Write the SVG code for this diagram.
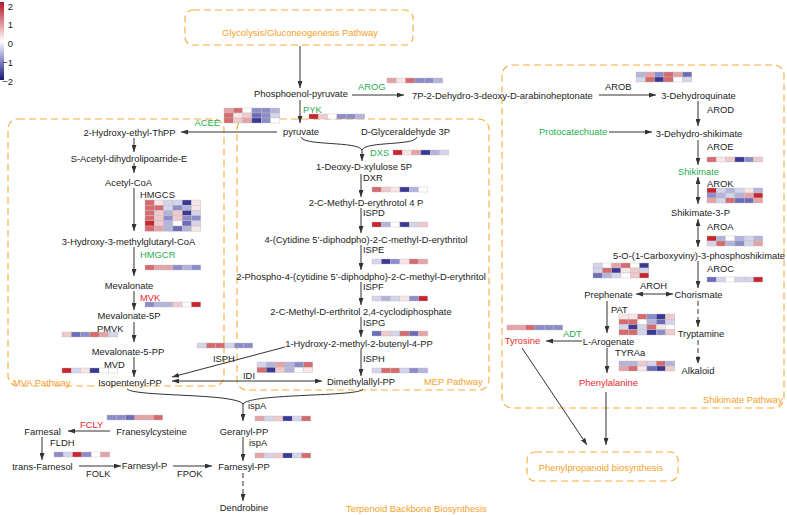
<svg xmlns="http://www.w3.org/2000/svg" width="787" height="515" viewBox="0 0 787 515">
<style>
.t{font-family:"Liberation Sans",Arial,sans-serif;font-size:9.4px;fill:#222}
.m{text-anchor:middle}
.e{text-anchor:end}
.g{fill:#1fae4f}
.rd{fill:#e8262d}
.o{fill:#f5a02a}
.box{fill:none;stroke:#f6ab3c;stroke-width:1.1;stroke-dasharray:7 4}
.ln{stroke:#333;stroke-width:1;fill:none}
.ar{marker-end:url(#ah)}
.da{marker-start:url(#ah);marker-end:url(#ah)}
.dash{stroke-dasharray:5 3}
.hm rect{stroke:#bdbdbd;stroke-width:0.4}
.r3{fill:#c8262c}.r2{fill:#d66a6f}.r1{fill:#e5a2a7}.r0{fill:#f0c9cc}.p{fill:#f8e6e7}.w{fill:#ffffff}
.b0{fill:#d4d4ec}.b1{fill:#b3b3dc}.b2{fill:#8c8cca}.b25{fill:#6c6cb8}.b3{fill:#3a3a96}
</style>
<defs>
<linearGradient id="cb" x1="0" y1="0" x2="0" y2="1">
<stop offset="0" stop-color="#b2182b"/>
<stop offset="0.25" stop-color="#e0868c"/>
<stop offset="0.5" stop-color="#ffffff"/>
<stop offset="0.75" stop-color="#8a8ac8"/>
<stop offset="1" stop-color="#1a1a6e"/>
</linearGradient>
<marker id="ah" viewBox="0 0 7 5" refX="7" refY="2.5" markerWidth="7" markerHeight="5" markerUnits="userSpaceOnUse" orient="auto-start-reverse">
<path d="M0,0 L7,2.5 L0,5 z" fill="#333"/>
</marker>
</defs>

<g id="legend">
<rect x="0" y="2" width="4" height="78" fill="url(#cb)"/>
<text class="t e" x="13" y="9.5">2</text>
<text class="t e" x="13" y="27.5">1</text>
<text class="t e" x="13" y="46.5">0</text>
<text class="t e" x="13" y="65.5">−1</text>
<text class="t e" x="13" y="84.5">−2</text>
</g>

<g id="pathway-boxes">
<rect class="box" x="185" y="10" width="228" height="35" rx="8"/>
<rect class="box" x="8" y="119" width="216" height="267" rx="10"/>
<rect class="box" x="237" y="119" width="252" height="271" rx="10"/>
<rect class="box" x="502" y="65" width="282" height="343" rx="10"/>
<rect class="box" x="527" y="452" width="151" height="29" rx="8"/>
<text class="t m o" x="300" y="35.5">Glycolysis/Gluconeogenesis Pathway</text>
<text class="t o" x="13" y="385.5">MVA Pathway</text>
<text class="t o" x="424" y="384.5">MEP Pathway</text>
<text class="t o" x="703" y="402.5">Shikimate Pathway</text>
<text class="t o" x="346" y="511.5">Terpenoid Backbone Biosynthesis</text>
<text class="t m o" x="601" y="470.5">Phenylpropanoid biosynthesis</text>
</g>

<g id="connectors">
<line class="ln ar" x1="300" y1="46" x2="300" y2="88"/>
<line class="ln ar" x1="300" y1="100" x2="300" y2="123"/>
<line class="ln ar" x1="352" y1="95" x2="404" y2="95"/>
<line class="ln ar" x1="599" y1="95" x2="656" y2="95"/>
<line class="ln ar" x1="277" y1="132" x2="181" y2="132"/>
<path class="ln" d="M301,137 C303,146 358,141 362,150"/>
<path class="ln" d="M417,137 C415,146 366,141 362,150"/>
<line class="ln ar" x1="362" y1="149" x2="362" y2="161"/>
<line class="ln ar" x1="134" y1="138" x2="134" y2="152"/>
<line class="ln ar" x1="134" y1="163" x2="134" y2="173"/>
<line class="ln ar" x1="134" y1="188" x2="134" y2="231"/>
<line class="ln ar" x1="134" y1="247" x2="134" y2="276"/>
<line class="ln ar" x1="134" y1="291" x2="134" y2="310"/>
<line class="ln ar" x1="134" y1="322" x2="134" y2="342"/>
<line class="ln ar" x1="134" y1="357" x2="134" y2="377"/>
<line class="ln ar" x1="361" y1="174" x2="361" y2="197"/>
<line class="ln ar" x1="361" y1="208" x2="361" y2="233"/>
<line class="ln ar" x1="361" y1="245" x2="361" y2="270"/>
<line class="ln ar" x1="361" y1="282" x2="361" y2="305"/>
<line class="ln ar" x1="361" y1="317" x2="361" y2="337"/>
<line class="ln ar" x1="361" y1="349" x2="361" y2="376"/>
<line class="ln ar" x1="285" y1="347" x2="172" y2="377"/>
<line class="ln da" x1="172" y1="381" x2="322" y2="381"/>
<path class="ln" d="M127,389 C135,397 235,393 243,404"/>
<path class="ln" d="M363,389 C360,397 251,393 243,404"/>
<line class="ln ar" x1="243" y1="403" x2="243" y2="421"/>
<line class="ln ar" x1="243" y1="437" x2="243" y2="461"/>
<line class="ln ar dash" x1="243" y1="473" x2="243" y2="501"/>
<line class="ln ar" x1="110" y1="431" x2="68" y2="431"/>
<line class="ln ar" x1="42" y1="437" x2="42" y2="460"/>
<line class="ln ar" x1="79" y1="466" x2="121" y2="466"/>
<line class="ln ar" x1="173" y1="466" x2="212" y2="466"/>
<line class="ln ar" x1="698" y1="101" x2="698" y2="126"/>
<line class="ln ar" x1="609" y1="132" x2="652" y2="132"/>
<line class="ln ar" x1="698" y1="140" x2="698" y2="165"/>
<line class="ln da" x1="698" y1="177" x2="698" y2="204"/>
<line class="ln da" x1="698" y1="219" x2="698" y2="247"/>
<line class="ln ar" x1="698" y1="261" x2="698" y2="288"/>
<line class="ln ar dash" x1="698" y1="301" x2="698" y2="327"/>
<line class="ln ar dash" x1="698" y1="340" x2="698" y2="364"/>
<line class="ln da" x1="636" y1="294" x2="673" y2="294"/>
<line class="ln ar" x1="607" y1="301" x2="607" y2="333"/>
<line class="ln ar" x1="582" y1="341" x2="546" y2="341"/>
<line class="ln ar" x1="607" y1="348" x2="607" y2="373"/>
<line class="ln ar" x1="606" y1="392" x2="606" y2="445"/>
<line class="ln ar" x1="522" y1="348" x2="587" y2="445"/>
</g>

<g id="nodes">
<text id="n-pep" class="t m" x="301" y="97">Phosphoenol-pyruvate</text>
<text id="n-pyr" class="t m" x="301" y="134.5">pyruvate</text>
<text id="n-ga3p" class="t m" x="405.5" y="134.5">D-Glyceraldehyde 3P</text>
<text id="n-dxp" class="t m" x="364" y="170">1-Deoxy-D-xylulose 5P</text>
<text id="n-mep" class="t m" x="366" y="205.5">2-C-Methyl-D-erythrotol 4 P</text>
<text id="n-cdpme" class="t m" x="366" y="242.5">4-(Cytidine 5’-diphodpho)-2-C-methyl-D-erythritol</text>
<text id="n-cdpmep" class="t m" x="361" y="279.5">2-Phospho-4-(cytidine 5’-diphodpho)-2-C-methyl-D-erythritol</text>
<text id="n-mecpp" class="t m" x="361" y="314.5">2-C-Methyl-D-erthritol 2,4-cyclodiphosphate</text>
<text id="n-hmbpp" class="t m" x="359" y="346.5">1-Hydroxy-2-methyl-2-butenyl-4-PP</text>
<text id="n-dmapp" class="t m" x="361" y="384.5">Dimethylallyl-PP</text>
<text id="n-hethpp" class="t m" x="129.5" y="135.5">2-Hydroxy-ethyl-ThPP</text>
<text id="n-sacet" class="t m" x="129" y="161.5">S-Acetyl-dihydrolipoarride-E</text>
<text id="n-acoa" class="t m" x="128.5" y="185.5">Acetyl-CoA</text>
<text id="n-hmgcoa" class="t m" x="128.5" y="244.5">3-Hydroxy-3-methylglutaryl-CoA</text>
<text id="n-mev" class="t m" x="129" y="288.5">Mevalonate</text>
<text id="n-mev5p" class="t m" x="129" y="318.5">Mevalonate-5P</text>
<text id="n-mev5pp" class="t m" x="128" y="354.5">Mevalonate-5-PP</text>
<text id="n-ipp" class="t m" x="130" y="385.5">Isopentenyl-PP</text>
<text id="n-gpp" class="t m" x="244" y="434.5">Geranyl-PP</text>
<text id="n-fpp" class="t m" x="244" y="469.5">Farnesyl-PP</text>
<text id="n-dend" class="t m" x="244" y="510.5">Dendrobine</text>
<text id="n-farnesal" class="t m" x="42.5" y="434.5">Farnesal</text>
<text id="n-fcys" class="t m" x="151.5" y="434.5">Franesylcysteine</text>
<text id="n-tfarn" class="t m" x="42.5" y="469.5">trans-Farnesol</text>
<text id="n-fp" class="t m" x="144.5" y="468.5">Farnesyl-P</text>
<text id="n-dahp" class="t" x="412" y="98.5">7P-2-Dehydro-3-deoxy-D-arabinoheptonate</text>
<text id="n-dhq" class="t m" x="698.5" y="98.5">3-Dehydroquinate</text>
<text id="n-proto" class="t g" x="539" y="134.5">Protocatechuate</text>
<text id="n-dhs" class="t m" x="699" y="136.5">3-Dehydro-shikimate</text>
<text id="n-shik" class="t m g" x="698.5" y="174.5">Shikimate</text>
<text id="n-s3p" class="t m" x="700.5" y="215.5">Shikimate-3-P</text>
<text id="n-epsp" class="t m" x="699" y="258.5">5-O-(1-Carboxyviny)-3-phosphoshikimate</text>
<text id="n-chor" class="t m" x="698.5" y="297.5">Chorismate</text>
<text id="n-preph" class="t m" x="608.5" y="297.5">Prephenate</text>
<text id="n-trypt" class="t m" x="701" y="336.5">Tryptamine</text>
<text id="n-alk" class="t m" x="698" y="373.5">Alkaloid</text>
<text id="n-arog" class="t m" x="608.5" y="344.5">L-Arogenate</text>
<text id="n-tyr" class="t m rd" x="522.5" y="343.5">Tyrosine</text>
<text id="n-phe" class="t m rd" x="608.5" y="385.5">Phenylalanine</text>
</g>

<g id="enzyme-labels">
<text class="t g" x="358" y="89.5">AROG</text>
<text class="t g" x="303" y="112.5">PYK</text>
<text class="t g" x="194.5" y="125.5">ACEE</text>
<text class="t g" x="370" y="155.5">DXS</text>
<text class="t" x="363" y="180.5">DXR</text>
<text class="t" x="363" y="215.5">ISPD</text>
<text class="t" x="363" y="252.5">ISPE</text>
<text class="t" x="363" y="289.5">ISPF</text>
<text class="t" x="363" y="325.5">ISPG</text>
<text class="t" x="363" y="361.5">ISPH</text>
<text class="t" x="213" y="361.5">ISPH</text>
<text class="t" x="243" y="378.5">IDI</text>
<text class="t" x="140" y="197.5">HMGCS</text>
<text class="t g" x="140" y="257.5">HMGCR</text>
<text class="t rd" x="140" y="300.5">MVK</text>
<text class="t" x="97" y="331.5">PMVK</text>
<text class="t" x="104" y="367.5">MVD</text>
<text class="t" x="248" y="408.5">ispA</text>
<text class="t" x="249" y="445.5">ispA</text>
<text class="t rd" x="80" y="427.5">FCLY</text>
<text class="t" x="50" y="445.5">FLDH</text>
<text class="t" x="86" y="476.5">FOLK</text>
<text class="t" x="177" y="476.5">FPOK</text>
<text class="t" x="605" y="89.5">AROB</text>
<text class="t" x="707" y="112.5">AROD</text>
<text class="t" x="707" y="149.5">AROE</text>
<text class="t" x="707" y="186.5">AROK</text>
<text class="t" x="707" y="229.5">AROA</text>
<text class="t" x="707" y="271.5">AROC</text>
<text class="t" x="640" y="288.5">AROH</text>
<text class="t" x="611" y="312.5">PAT</text>
<text class="t g" x="563" y="336.5">ADT</text>
<text class="t" x="615" y="355.5">TYRAa</text>
</g>

<g id="heatmaps">
<g id="hm-acee" class="hm" transform="translate(224,108)">
<rect x="0" y="0" width="9.3" height="5" class="r1"/><rect x="9.3" y="0" width="9.3" height="5" class="r2"/><rect x="18.6" y="0" width="9.3" height="5" class="w"/><rect x="27.9" y="0" width="9.3" height="5" class="b2"/><rect x="37.2" y="0" width="9.3" height="5" class="b2"/><rect x="46.5" y="0" width="9.3" height="5" class="b1"/>
<rect x="0" y="5" width="9.3" height="5" class="r2"/><rect x="9.3" y="5" width="9.3" height="5" class="p"/><rect x="18.6" y="5" width="9.3" height="5" class="r0"/><rect x="27.9" y="5" width="9.3" height="5" class="b25"/><rect x="37.2" y="5" width="9.3" height="5" class="b2"/><rect x="46.5" y="5" width="9.3" height="5" class="b0"/>
<rect x="0" y="10" width="9.3" height="5" class="r2"/><rect x="9.3" y="10" width="9.3" height="5" class="r0"/><rect x="18.6" y="10" width="9.3" height="5" class="r1"/><rect x="27.9" y="10" width="9.3" height="5" class="b3"/><rect x="37.2" y="10" width="9.3" height="5" class="b2"/><rect x="46.5" y="10" width="9.3" height="5" class="w"/>
</g>
<g id="hm-arog" class="hm" transform="translate(387,78)">
<rect x="0" y="0" width="9.3" height="5" class="r1"/><rect x="9.3" y="0" width="9.3" height="5" class="p"/><rect x="18.6" y="0" width="9.3" height="5" class="r2"/><rect x="27.9" y="0" width="9.3" height="5" class="b2"/><rect x="37.2" y="0" width="9.3" height="5" class="b2"/><rect x="46.5" y="0" width="9.3" height="5" class="b1"/>
</g>
<g id="hm-pyk" class="hm" transform="translate(309,114)">
<rect x="0" y="0" width="9.3" height="5" class="r3"/><rect x="9.3" y="0" width="9.3" height="5" class="r0"/><rect x="18.6" y="0" width="9.3" height="5" class="w"/><rect x="27.9" y="0" width="9.3" height="5" class="b2"/><rect x="37.2" y="0" width="9.3" height="5" class="b2"/><rect x="46.5" y="0" width="9.3" height="5" class="b1"/>
</g>
<g id="hm-dxs" class="hm" transform="translate(393,150)">
<rect x="0" y="0" width="9.3" height="5" class="r3"/><rect x="9.3" y="0" width="9.3" height="5" class="p"/><rect x="18.6" y="0" width="9.3" height="5" class="r1"/><rect x="27.9" y="0" width="9.3" height="5" class="b3"/><rect x="37.2" y="0" width="9.3" height="5" class="b1"/><rect x="46.5" y="0" width="9.3" height="5" class="b0"/>
</g>
<g id="hm-dxr" class="hm" transform="translate(372,187)">
<rect x="0" y="0" width="9.3" height="5" class="r2"/><rect x="9.3" y="0" width="9.3" height="5" class="r0"/><rect x="18.6" y="0" width="9.3" height="5" class="p"/><rect x="27.9" y="0" width="9.3" height="5" class="b3"/><rect x="37.2" y="0" width="9.3" height="5" class="b1"/><rect x="46.5" y="0" width="9.3" height="5" class="w"/>
</g>
<g id="hm-ispd" class="hm" transform="translate(372,222)">
<rect x="0" y="0" width="9.3" height="5" class="r3"/><rect x="9.3" y="0" width="9.3" height="5" class="b1"/><rect x="18.6" y="0" width="9.3" height="5" class="w"/><rect x="27.9" y="0" width="9.3" height="5" class="b3"/><rect x="37.2" y="0" width="9.3" height="5" class="b0"/><rect x="46.5" y="0" width="9.3" height="5" class="r0"/>
</g>
<g id="hm-ispe" class="hm" transform="translate(372,259)">
<rect x="0" y="0" width="9.3" height="5" class="b0"/><rect x="9.3" y="0" width="9.3" height="5" class="b3"/><rect x="18.6" y="0" width="9.3" height="5" class="b2"/><rect x="27.9" y="0" width="9.3" height="5" class="p"/><rect x="37.2" y="0" width="9.3" height="5" class="r2"/><rect x="46.5" y="0" width="9.3" height="5" class="r1"/>
</g>
<g id="hm-ispf" class="hm" transform="translate(372,296)">
<rect x="0" y="0" width="9.3" height="5" class="b0"/><rect x="9.3" y="0" width="9.3" height="5" class="b1"/><rect x="18.6" y="0" width="9.3" height="5" class="b0"/><rect x="27.9" y="0" width="9.3" height="5" class="p"/><rect x="37.2" y="0" width="9.3" height="5" class="b2"/><rect x="46.5" y="0" width="9.3" height="5" class="r3"/>
</g>
<g id="hm-ispg" class="hm" transform="translate(372,331)">
<rect x="0" y="0" width="9.3" height="5" class="b25"/><rect x="9.3" y="0" width="9.3" height="5" class="r0"/><rect x="18.6" y="0" width="9.3" height="5" class="b0"/><rect x="27.9" y="0" width="9.3" height="5" class="r2"/><rect x="37.2" y="0" width="9.3" height="5" class="b25"/><rect x="46.5" y="0" width="9.3" height="5" class="r1"/>
</g>
<g id="hm-isph-r" class="hm" transform="translate(372,368)">
<rect x="0" y="0" width="9.3" height="5" class="b0"/><rect x="9.3" y="0" width="9.3" height="5" class="r2"/><rect x="18.6" y="0" width="9.3" height="5" class="r2"/><rect x="27.9" y="0" width="9.3" height="5" class="b0"/><rect x="37.2" y="0" width="9.3" height="5" class="b2"/><rect x="46.5" y="0" width="9.3" height="5" class="b1"/>
</g>
<g id="hm-isph-l" class="hm" transform="translate(197,343)">
<rect x="0" y="0" width="9.3" height="5" class="b0"/><rect x="9.3" y="0" width="9.3" height="5" class="r2"/><rect x="18.6" y="0" width="9.3" height="5" class="r2"/><rect x="27.9" y="0" width="9.3" height="5" class="b0"/><rect x="37.2" y="0" width="9.3" height="5" class="b2"/><rect x="46.5" y="0" width="9.3" height="5" class="b2"/>
</g>
<g id="hm-idi" class="hm" transform="translate(257,362)">
<rect x="0" y="0" width="9.3" height="5.3" class="b0"/><rect x="9.3" y="0" width="9.3" height="5.3" class="b1"/><rect x="18.6" y="0" width="9.3" height="5.3" class="r1"/><rect x="27.9" y="0" width="9.3" height="5.3" class="b1"/><rect x="37.2" y="0" width="9.3" height="5.3" class="b2"/><rect x="46.5" y="0" width="9.3" height="5.3" class="r2"/>
<rect x="0" y="5.3" width="9.3" height="5.3" class="r2"/><rect x="9.3" y="5.3" width="9.3" height="5.3" class="b3"/><rect x="18.6" y="5.3" width="9.3" height="5.3" class="r0"/><rect x="27.9" y="5.3" width="9.3" height="5.3" class="b1"/><rect x="37.2" y="5.3" width="9.3" height="5.3" class="w"/><rect x="46.5" y="5.3" width="9.3" height="5.3" class="p"/>
</g>
<g id="hm-ispa1" class="hm" transform="translate(255,416)">
<rect x="0" y="0" width="9.3" height="5" class="r1"/><rect x="9.3" y="0" width="9.3" height="5" class="b0"/><rect x="18.6" y="0" width="9.3" height="5" class="r0"/><rect x="27.9" y="0" width="9.3" height="5" class="b3"/><rect x="37.2" y="0" width="9.3" height="5" class="b0"/><rect x="46.5" y="0" width="9.3" height="5" class="r2"/>
</g>
<g id="hm-ispa2" class="hm" transform="translate(255,453)">
<rect x="0" y="0" width="9.3" height="5" class="r1"/><rect x="9.3" y="0" width="9.3" height="5" class="b0"/><rect x="18.6" y="0" width="9.3" height="5" class="r0"/><rect x="27.9" y="0" width="9.3" height="5" class="b3"/><rect x="37.2" y="0" width="9.3" height="5" class="b0"/><rect x="46.5" y="0" width="9.3" height="5" class="r2"/>
</g>
<g id="hm-hmgcs" class="hm" transform="translate(145,200)">
<rect x="0" y="0" width="9.3" height="5.2" class="r2"/><rect x="9.3" y="0" width="9.3" height="5.2" class="p"/><rect x="18.6" y="0" width="9.3" height="5.2" class="b0"/><rect x="27.9" y="0" width="9.3" height="5.2" class="b0"/><rect x="37.2" y="0" width="9.3" height="5.2" class="b3"/><rect x="46.5" y="0" width="9.3" height="5.2" class="p"/>
<rect x="0" y="5.2" width="9.3" height="5.2" class="r2"/><rect x="9.3" y="5.2" width="9.3" height="5.2" class="r2"/><rect x="18.6" y="5.2" width="9.3" height="5.2" class="b0"/><rect x="27.9" y="5.2" width="9.3" height="5.2" class="b2"/><rect x="37.2" y="5.2" width="9.3" height="5.2" class="b1"/><rect x="46.5" y="5.2" width="9.3" height="5.2" class="p"/>
<rect x="0" y="10.4" width="9.3" height="5.2" class="r2"/><rect x="9.3" y="10.4" width="9.3" height="5.2" class="r0"/><rect x="18.6" y="10.4" width="9.3" height="5.2" class="b1"/><rect x="27.9" y="10.4" width="9.3" height="5.2" class="r0"/><rect x="37.2" y="10.4" width="9.3" height="5.2" class="b3"/><rect x="46.5" y="10.4" width="9.3" height="5.2" class="b0"/>
<rect x="0" y="15.6" width="9.3" height="5.2" class="r2"/><rect x="9.3" y="15.6" width="9.3" height="5.2" class="r0"/><rect x="18.6" y="15.6" width="9.3" height="5.2" class="b2"/><rect x="27.9" y="15.6" width="9.3" height="5.2" class="r0"/><rect x="37.2" y="15.6" width="9.3" height="5.2" class="b2"/><rect x="46.5" y="15.6" width="9.3" height="5.2" class="b2"/>
<rect x="0" y="20.8" width="9.3" height="5.2" class="r3"/><rect x="9.3" y="20.8" width="9.3" height="5.2" class="r0"/><rect x="18.6" y="20.8" width="9.3" height="5.2" class="b1"/><rect x="27.9" y="20.8" width="9.3" height="5.2" class="w"/><rect x="37.2" y="20.8" width="9.3" height="5.2" class="b25"/><rect x="46.5" y="20.8" width="9.3" height="5.2" class="b0"/>
<rect x="0" y="26" width="9.3" height="5.2" class="r2"/><rect x="9.3" y="26" width="9.3" height="5.2" class="r1"/><rect x="18.6" y="26" width="9.3" height="5.2" class="b1"/><rect x="27.9" y="26" width="9.3" height="5.2" class="b25"/><rect x="37.2" y="26" width="9.3" height="5.2" class="b1"/><rect x="46.5" y="26" width="9.3" height="5.2" class="p"/>
</g>
<g id="hm-hmgcr" class="hm" transform="translate(145,265)">
<rect x="0" y="0" width="9.3" height="5" class="r2"/><rect x="9.3" y="0" width="9.3" height="5" class="r1"/><rect x="18.6" y="0" width="9.3" height="5" class="r1"/><rect x="27.9" y="0" width="9.3" height="5" class="b2"/><rect x="37.2" y="0" width="9.3" height="5" class="b1"/><rect x="46.5" y="0" width="9.3" height="5" class="b2"/>
</g>
<g id="hm-mvk" class="hm" transform="translate(145,302)">
<rect x="0" y="0" width="9.3" height="5" class="b2"/><rect x="9.3" y="0" width="9.3" height="5" class="b1"/><rect x="18.6" y="0" width="9.3" height="5" class="b1"/><rect x="27.9" y="0" width="9.3" height="5" class="r0"/><rect x="37.2" y="0" width="9.3" height="5" class="w"/><rect x="46.5" y="0" width="9.3" height="5" class="r3"/>
</g>
<g id="hm-pmvk" class="hm" transform="translate(62,332)">
<rect x="0" y="0" width="9.3" height="5" class="r0"/><rect x="9.3" y="0" width="9.3" height="5" class="b25"/><rect x="18.6" y="0" width="9.3" height="5" class="b2"/><rect x="27.9" y="0" width="9.3" height="5" class="r2"/><rect x="37.2" y="0" width="9.3" height="5" class="r1"/><rect x="46.5" y="0" width="9.3" height="5" class="b0"/>
</g>
<g id="hm-mvd" class="hm" transform="translate(62,368)">
<rect x="0" y="0" width="9.3" height="5" class="r3"/><rect x="9.3" y="0" width="9.3" height="5" class="b0"/><rect x="18.6" y="0" width="9.3" height="5" class="p"/><rect x="27.9" y="0" width="9.3" height="5" class="b3"/><rect x="37.2" y="0" width="9.3" height="5" class="w"/><rect x="46.5" y="0" width="9.3" height="5" class="w"/>
</g>
<g id="hm-fcly" class="hm" transform="translate(107,415)">
<rect x="0" y="0" width="9.3" height="5" class="b2"/><rect x="9.3" y="0" width="9.3" height="5" class="b2"/><rect x="18.6" y="0" width="9.3" height="5" class="b25"/><rect x="27.9" y="0" width="9.3" height="5" class="r1"/><rect x="37.2" y="0" width="9.3" height="5" class="r1"/><rect x="46.5" y="0" width="9.3" height="5" class="r2"/>
</g>
<g id="hm-fldh" class="hm" transform="translate(54,452)">
<rect x="0" y="0" width="9.3" height="5" class="b2"/><rect x="9.3" y="0" width="9.3" height="5" class="b0"/><rect x="18.6" y="0" width="9.3" height="5" class="r3"/><rect x="27.9" y="0" width="9.3" height="5" class="b2"/><rect x="37.2" y="0" width="9.3" height="5" class="w"/><rect x="46.5" y="0" width="9.3" height="5" class="r1"/>
</g>
<g id="hm-arob" class="hm" transform="translate(636,72)">
<rect x="0" y="0" width="9.3" height="5" class="b1"/><rect x="9.3" y="0" width="9.3" height="5" class="r1"/><rect x="18.6" y="0" width="9.3" height="5" class="b2"/><rect x="27.9" y="0" width="9.3" height="5" class="r2"/><rect x="37.2" y="0" width="9.3" height="5" class="r1"/><rect x="46.5" y="0" width="9.3" height="5" class="b25"/>
<rect x="0" y="5" width="9.3" height="5" class="b0"/><rect x="9.3" y="5" width="9.3" height="5" class="r2"/><rect x="18.6" y="5" width="9.3" height="5" class="b3"/><rect x="27.9" y="5" width="9.3" height="5" class="r2"/><rect x="37.2" y="5" width="9.3" height="5" class="w"/><rect x="46.5" y="5" width="9.3" height="5" class="b0"/>
</g>
<g id="hm-aroe" class="hm" transform="translate(707,157)">
<rect x="0" y="0" width="9.3" height="5" class="r2"/><rect x="9.3" y="0" width="9.3" height="5" class="p"/><rect x="18.6" y="0" width="9.3" height="5" class="r0"/><rect x="27.9" y="0" width="9.3" height="5" class="b3"/><rect x="37.2" y="0" width="9.3" height="5" class="b2"/><rect x="46.5" y="0" width="9.3" height="5" class="r0"/>
</g>
<g id="hm-arok" class="hm" transform="translate(707,188)">
<rect x="0" y="0" width="9.3" height="5" class="r3"/><rect x="9.3" y="0" width="9.3" height="5" class="b0"/><rect x="18.6" y="0" width="9.3" height="5" class="b1"/><rect x="27.9" y="0" width="9.3" height="5" class="b0"/><rect x="37.2" y="0" width="9.3" height="5" class="p"/><rect x="46.5" y="0" width="9.3" height="5" class="b1"/>
<rect x="0" y="5" width="9.3" height="5" class="b2"/><rect x="9.3" y="5" width="9.3" height="5" class="b1"/><rect x="18.6" y="5" width="9.3" height="5" class="b0"/><rect x="27.9" y="5" width="9.3" height="5" class="b1"/><rect x="37.2" y="5" width="9.3" height="5" class="r1"/><rect x="46.5" y="5" width="9.3" height="5" class="r3"/>
<rect x="0" y="10" width="9.3" height="5" class="r1"/><rect x="9.3" y="10" width="9.3" height="5" class="b0"/><rect x="18.6" y="10" width="9.3" height="5" class="r2"/><rect x="27.9" y="10" width="9.3" height="5" class="b25"/><rect x="37.2" y="10" width="9.3" height="5" class="b25"/><rect x="46.5" y="10" width="9.3" height="5" class="r1"/>
</g>
<g id="hm-aroa" class="hm" transform="translate(707,236)">
<rect x="0" y="0" width="9.3" height="5" class="r3"/><rect x="9.3" y="0" width="9.3" height="5" class="b1"/><rect x="18.6" y="0" width="9.3" height="5" class="w"/><rect x="27.9" y="0" width="9.3" height="5" class="b1"/><rect x="37.2" y="0" width="9.3" height="5" class="b0"/><rect x="46.5" y="0" width="9.3" height="5" class="b1"/>
<rect x="0" y="5" width="9.3" height="5" class="b0"/><rect x="9.3" y="5" width="9.3" height="5" class="r2"/><rect x="18.6" y="5" width="9.3" height="5" class="b1"/><rect x="27.9" y="5" width="9.3" height="5" class="b2"/><rect x="37.2" y="5" width="9.3" height="5" class="b0"/><rect x="46.5" y="5" width="9.3" height="5" class="r1"/>
</g>
<g id="hm-aroc" class="hm" transform="translate(707,277)">
<rect x="0" y="0" width="9.3" height="5" class="b25"/><rect x="9.3" y="0" width="9.3" height="5" class="b0"/><rect x="18.6" y="0" width="9.3" height="5" class="w"/><rect x="27.9" y="0" width="9.3" height="5" class="b0"/><rect x="37.2" y="0" width="9.3" height="5" class="b0"/><rect x="46.5" y="0" width="9.3" height="5" class="r3"/>
</g>
<g id="hm-aroh" class="hm" transform="translate(593,263)">
<rect x="0" y="0" width="9.3" height="5" class="b0"/><rect x="9.3" y="0" width="9.3" height="5" class="w"/><rect x="18.6" y="0" width="9.3" height="5" class="r1"/><rect x="27.9" y="0" width="9.3" height="5" class="r2"/><rect x="37.2" y="0" width="9.3" height="5" class="w"/><rect x="46.5" y="0" width="9.3" height="5" class="b3"/>
<rect x="0" y="5" width="9.3" height="5" class="b0"/><rect x="9.3" y="5" width="9.3" height="5" class="r2"/><rect x="18.6" y="5" width="9.3" height="5" class="b3"/><rect x="27.9" y="5" width="9.3" height="5" class="p"/><rect x="37.2" y="5" width="9.3" height="5" class="r0"/><rect x="46.5" y="5" width="9.3" height="5" class="b0"/>
<rect x="0" y="10" width="9.3" height="5" class="b25"/><rect x="9.3" y="10" width="9.3" height="5" class="b1"/><rect x="18.6" y="10" width="9.3" height="5" class="b0"/><rect x="27.9" y="10" width="9.3" height="5" class="w"/><rect x="37.2" y="10" width="9.3" height="5" class="r0"/><rect x="46.5" y="10" width="9.3" height="5" class="r3"/>
</g>
<g id="hm-pat" class="hm" transform="translate(619,314)">
<rect x="0" y="0" width="9.3" height="5.25" class="p"/><rect x="9.3" y="0" width="9.3" height="5.25" class="p"/><rect x="18.6" y="0" width="9.3" height="5.25" class="r2"/><rect x="27.9" y="0" width="9.3" height="5.25" class="b2"/><rect x="37.2" y="0" width="9.3" height="5.25" class="b3"/><rect x="46.5" y="0" width="9.3" height="5.25" class="r0"/>
<rect x="0" y="5.25" width="9.3" height="5.25" class="r2"/><rect x="9.3" y="5.25" width="9.3" height="5.25" class="r2"/><rect x="18.6" y="5.25" width="9.3" height="5.25" class="w"/><rect x="27.9" y="5.25" width="9.3" height="5.25" class="b1"/><rect x="37.2" y="5.25" width="9.3" height="5.25" class="b25"/><rect x="46.5" y="5.25" width="9.3" height="5.25" class="b0"/>
<rect x="0" y="10.5" width="9.3" height="5.25" class="b0"/><rect x="9.3" y="10.5" width="9.3" height="5.25" class="b3"/><rect x="18.6" y="10.5" width="9.3" height="5.25" class="b0"/><rect x="27.9" y="10.5" width="9.3" height="5.25" class="r2"/><rect x="37.2" y="10.5" width="9.3" height="5.25" class="p"/><rect x="46.5" y="10.5" width="9.3" height="5.25" class="w"/>
<rect x="0" y="15.75" width="9.3" height="5.25" class="r2"/><rect x="9.3" y="15.75" width="9.3" height="5.25" class="r2"/><rect x="18.6" y="15.75" width="9.3" height="5.25" class="b0"/><rect x="27.9" y="15.75" width="9.3" height="5.25" class="b3"/><rect x="37.2" y="15.75" width="9.3" height="5.25" class="b2"/><rect x="46.5" y="15.75" width="9.3" height="5.25" class="r0"/>
</g>
<g id="hm-adt" class="hm" transform="translate(507,325)">
<rect x="0" y="0" width="9.3" height="5" class="r1"/><rect x="9.3" y="0" width="9.3" height="5" class="r1"/><rect x="18.6" y="0" width="9.3" height="5" class="r2"/><rect x="27.9" y="0" width="9.3" height="5" class="b2"/><rect x="37.2" y="0" width="9.3" height="5" class="b2"/><rect x="46.5" y="0" width="9.3" height="5" class="b2"/>
</g>
<g id="hm-tyraa" class="hm" transform="translate(619,361)">
<rect x="0" y="0" width="9.3" height="5" class="b1"/><rect x="9.3" y="0" width="9.3" height="5" class="b1"/><rect x="18.6" y="0" width="9.3" height="5" class="r0"/><rect x="27.9" y="0" width="9.3" height="5" class="b0"/><rect x="37.2" y="0" width="9.3" height="5" class="r2"/><rect x="46.5" y="0" width="9.3" height="5" class="b1"/>
<rect x="0" y="5" width="9.3" height="5" class="r1"/><rect x="9.3" y="5" width="9.3" height="5" class="r2"/><rect x="18.6" y="5" width="9.3" height="5" class="p"/><rect x="27.9" y="5" width="9.3" height="5" class="b25"/><rect x="37.2" y="5" width="9.3" height="5" class="b3"/><rect x="46.5" y="5" width="9.3" height="5" class="r0"/>
</g>
</g>
</svg>
